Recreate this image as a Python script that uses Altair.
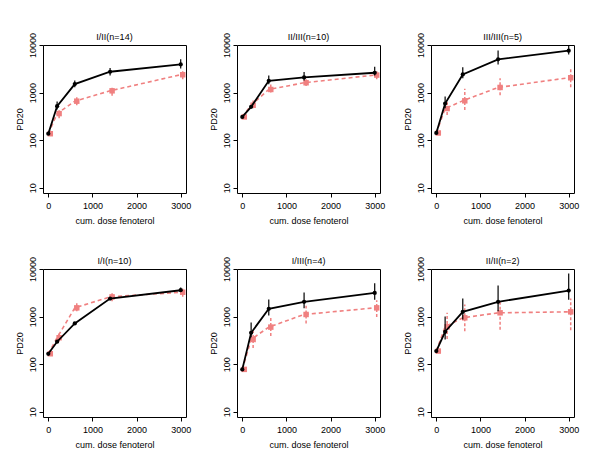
import altair as alt
import pandas as pd

titles = ["I/II(n=14)", "II/III(n=10)", "III/III(n=5)", "I/I(n=10)", "I/III(n=4)", "II/II(n=2)"]
doses = [0, 200, 600, 1400, 3000]

# black (solid) series: mean, lower, upper
blk_mean = [
    [137, 518, 1508, 2743, 3918],
    [309, 502, 1774, 2084, 2614],
    [142, 590, 2411, 5000, 7605],
    [166, 297, 718, 2398, 3581],
    [78, 458, 1457, 2042, 3150],
    [189, 481, 1260, 2042, 3524],
]
blk_lo = [
    [137, 440, 1300, 2300, 3200],
    [309, 502, 1500, 1800, 2300],
    [142, 470, 2000, 3900, 6300],
    [166, 290, 700, 2300, 3300],
    [78, 370, 1050, 1500, 2250],
    [189, 330, 870, 1300, 2250],
]
blk_hi = [
    [137, 650, 1800, 3300, 5000],
    [309, 502, 2300, 2700, 3500],
    [142, 830, 3400, 7700, 10000],
    [166, 300, 740, 2500, 4100],
    [78, 750, 2300, 3200, 5000],
    [189, 1000, 2400, 4500, 8000],
]
# pink (dashed) series: mean, lower, upper
pnk_mean = [
    [137, 363, 661, 1091, 2373],
    [309, 544, 1164, 1610, 2335],
    [142, 463, 672, 1283, 2051],
    [166, 360, 1528, 2598, 3252],
    [78, 332, 602, 1109, 1528],
    [189, 611, 944, 1202, 1260],
]
pnk_lo = [
    [137, 290, 540, 860, 1900],
    [309, 470, 1000, 1380, 1900],
    [142, 340, 430, 880, 1300],
    [166, 300, 1300, 2100, 2600],
    [78, 220, 390, 720, 980],
    [189, 340, 490, 530, 520],
]
pnk_hi = [
    [137, 460, 810, 1400, 3000],
    [309, 680, 1500, 1900, 3000],
    [142, 700, 1200, 2000, 3300],
    [166, 470, 1900, 3200, 4100],
    [78, 500, 1000, 1700, 2200],
    [189, 1200, 1800, 2200, 2400],
]

PINK = "#F08080"
FONT = "Liberation Sans"

def panel(i):
    rows = []
    for j, d in enumerate(doses):
        rows.append(dict(dose=d, grp="blk", m=blk_mean[i][j], lo=blk_lo[i][j], hi=blk_hi[i][j]))
        rows.append(dict(dose=d, grp="pnk", m=pnk_mean[i][j], lo=pnk_lo[i][j], hi=pnk_hi[i][j]))
    df = pd.DataFrame(rows)
    base = alt.Chart(df)
    x = alt.X("dose:Q", scale=alt.Scale(domain=[-120, 3120], nice=False, zero=False),
              axis=alt.Axis(values=[0, 1000, 2000, 3000], title="cum. dose fenoterol", format="d"))
    y = alt.Y("m:Q", scale=alt.Scale(type="log", domain=[7.8, 10000], nice=False),
              axis=alt.Axis(values=[10, 100, 1000, 10000], title="PD20", format="d"))
    b = base.transform_filter(alt.datum.grp == "blk")
    p = base.transform_filter(alt.datum.grp == "pnk")
    layers = [
        p.mark_line(color=PINK, strokeDash=[4, 3], strokeWidth=1.6).encode(x=x, y=y),
        p.mark_rule(color=PINK, strokeDash=[3, 2], strokeWidth=1.5, xOffset=2).encode(x=x, y="lo:Q", y2="hi:Q"),
        p.mark_square(color=PINK, size=30, opacity=1, xOffset=2).encode(x=x, y=y),
        b.mark_line(color="black", strokeWidth=1.8).encode(x=x, y=y),
        b.mark_rule(color="black", strokeWidth=1.2).encode(x=x, y="lo:Q", y2="hi:Q"),
        b.mark_circle(color="black", size=18, opacity=1).encode(x=x, y=y),
    ]
    return alt.layer(*layers).properties(
        width=143, height=148,
        title=alt.TitleParams(titles[i], fontSize=9, fontWeight="normal", font=FONT, offset=-10),
    )

row1 = alt.hconcat(panel(0), panel(1), panel(2), spacing=16)
row2 = alt.hconcat(panel(3), panel(4), panel(5), spacing=16)
chart = alt.vconcat(row1, row2, spacing=29, background="white").properties(
    padding={"left": 6, "top": 23, "right": 0, "bottom": 0}
).configure_view(stroke="black", strokeWidth=1).configure_axis(
    domain=False, grid=False, ticks=True, tickSize=4, tickColor="black",
    labelFont=FONT, labelFontSize=9, labelColor="black",
    titleFont=FONT, titleFontSize=9, titleFontWeight="normal", titleColor="black",
).configure_axisY(labelAngle=270, labelAlign="center", labelBaseline="bottom", titlePadding=4, labelPadding=2
).configure_axisX(titlePadding=6, labelPadding=4
).configure_title(font=FONT, fontSize=9, fontWeight="normal", color="black")

chart.save("out.html", embed_options={"renderer": "svg", "actions": False})
